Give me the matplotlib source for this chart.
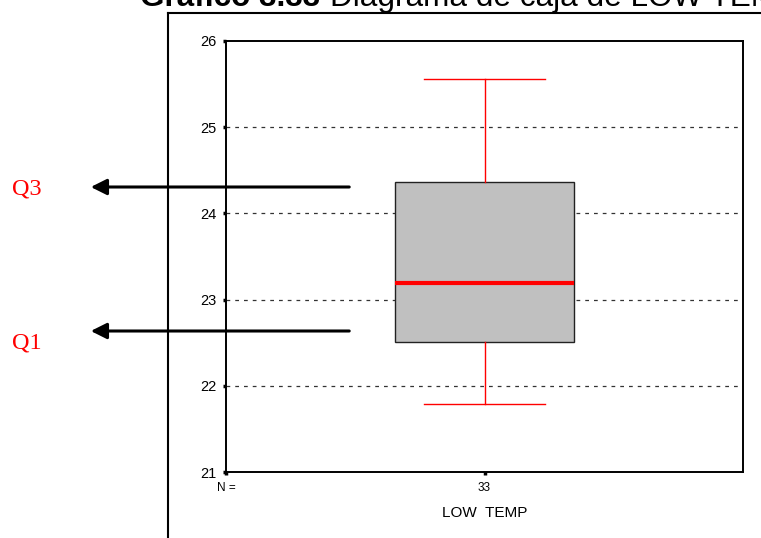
import matplotlib.pyplot as plt
from matplotlib.lines import Line2D
from matplotlib.patches import FancyArrowPatch

# Box plot summary for LOW TEMP
variable = "LOW  TEMP"
n_cases = 33
whisker_low = 21.79
q1 = 22.51
median = 23.19
q3 = 24.36
whisker_high = 25.56
y_ticks = [21, 22, 23, 24, 25, 26]

plt.rcParams["font.family"] = ["Liberation Sans", "DejaVu Sans"]

fig = plt.figure(figsize=(7.61, 5.38), dpi=100)
ax = fig.add_axes([226 / 761, 1 - 472 / 538, 517 / 761, 431 / 538])

stats = [{
    "whislo": whisker_low, "q1": q1, "med": median, "q3": q3,
    "whishi": whisker_high, "fliers": [], "label": str(n_cases),
}]
ax.bxp(stats, positions=[1], widths=0.69, patch_artist=True,
       showfliers=False,
       boxprops=dict(facecolor="#c0c0c0", edgecolor="#222222", linewidth=1),
       medianprops=dict(color="red", linewidth=3),
       whiskerprops=dict(color="red", linewidth=1),
       capprops=dict(color="red", linewidth=1),
       capwidths=0.47, zorder=3)

ax.set_xlim(0, 2)
ax.set_ylim(21, 26)
ax.set_yticks(y_ticks)
ax.set_yticklabels([str(t) for t in y_ticks], fontsize=10.5)
ax.set_xticks([0, 1])
ax.set_xticklabels(["N =", str(n_cases)], fontsize=8.5)
ax.tick_params(axis="both", direction="out", length=2, width=2.5, pad=5)
ax.set_xlabel(variable, fontsize=11, labelpad=9)

for t in y_ticks[1:-1]:
    ax.axhline(t, color="#333333", linestyle=(0, (3, 4)), linewidth=0.9, zorder=1)

for s in ax.spines.values():
    s.set_linewidth(1.4)

# outer frame lines
frame_top = 1 - 13 / 538
fig.add_artist(Line2D([168 / 761, 168 / 761], [0, frame_top],
                      transform=fig.transFigure, color="black", linewidth=1.5))
fig.add_artist(Line2D([168 / 761, 1], [frame_top, frame_top],
                      transform=fig.transFigure, color="black", linewidth=1.5))

# title (cut off at the top, as in the original)
fig.text(140 / 761, 1 - 6 / 538, "Gráfico 3.33", fontsize=22.7,
         fontweight="bold", ha="left", va="baseline")
fig.text(330 / 761, 1 - 6 / 538, "Diagrama de caja de LOW TEMP", fontsize=22.7,
         ha="left", va="baseline")

# arrows pointing to the quartiles
for yp, ylab, lab in [(187, 189, "Q3"), (331, 343, "Q1")]:
    yf = 1 - yp / 538
    fig.add_artist(FancyArrowPatch(
        (352 / 761, yf), (88 / 761, yf), transform=fig.transFigure,
        arrowstyle="-|>", color="black", lw=2.2, mutation_scale=24))
    fig.text(12 / 761, 1 - ylab / 538, lab, fontsize=17.5, color="red",
             family="Liberation Serif", ha="left", va="center")

fig.savefig("out.png", dpi=100)
